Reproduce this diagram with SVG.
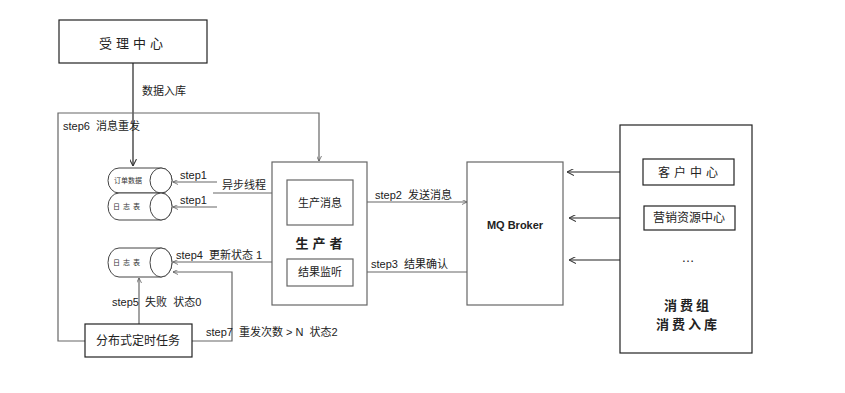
<svg xmlns="http://www.w3.org/2000/svg" width="845" height="393" viewBox="0 0 845 393">
<defs>
<marker id="arr" viewBox="0 0 10 10" refX="10" refY="5" markerWidth="7" markerHeight="7" orient="auto-start-reverse" markerUnits="userSpaceOnUse">
<path d="M0,0 L10,5 L0,10" fill="none" stroke="#333" stroke-width="1.5"/>
</marker>
<marker id="arrs" viewBox="0 0 10 10" refX="10" refY="5" markerWidth="5" markerHeight="5" orient="auto-start-reverse" markerUnits="userSpaceOnUse">
<path d="M0,0 L10,5 L0,10" fill="none" stroke="#555" stroke-width="1.5"/>
</marker>
</defs>
<style>
text{font-family:"Liberation Sans","Noto Sans CJK SC",sans-serif;fill:#222;white-space:pre}
.box{fill:#fff;stroke:#666;stroke-width:1.2}
.dark{fill:#fff;stroke:#222;stroke-width:1.2}
.ln{fill:none;stroke:#666;stroke-width:1.2}
.lk{fill:none;stroke:#222;stroke-width:1.2}
.lbl{font-size:11px}
.cyl{fill:#fff;stroke:#444;stroke-width:1}
.ct{font-size:7px;text-anchor:middle;fill:#333}
.mid{text-anchor:middle}
</style>
<rect width="845" height="393" fill="#fff"/>

<g id="connectors">
<path class="lk" d="M133,63 V166" marker-end="url(#arr)"/>
<path class="ln" d="M85,341 H58 V113 H319 V161" marker-end="url(#arrs)"/>
<path class="ln" d="M217,182 H173" marker-end="url(#arrs)"/>
<path class="ln" d="M217,207 H173" marker-end="url(#arrs)"/>
<path class="ln" d="M272,193 H213"/>
<path class="ln" d="M272,262 H173" marker-end="url(#arrs)"/>
<path class="ln" d="M192,341 H232 V272 H173" marker-end="url(#arrs)"/>
<path class="ln" d="M139,324 V278" marker-end="url(#arrs)"/>
<path class="ln" d="M353,202 H467" marker-end="url(#arrs)"/>
<path class="ln" d="M467,272 H354" marker-end="url(#arrs)"/>
<path class="lk" d="M643,172 H567" marker-end="url(#arr)"/>
<path class="lk" d="M644,218 H569" marker-end="url(#arr)"/>
<path class="lk" d="M643,260 H569" marker-end="url(#arr)"/>
</g>

<g id="labels">
<text class="lbl" x="142" y="95" font-size="10">数据入库</text>
<text class="lbl" x="63" y="130">step6  消息重发</text>
<text class="lbl" x="180" y="179">step1</text>
<text class="lbl" x="222" y="189" font-size="10">异步线程</text>
<text class="lbl" x="180" y="204">step1</text>
<text class="lbl" x="176" y="259">step4  更新状态 1</text>
<text class="lbl" x="112" y="306">step5  失败  状态0</text>
<text class="lbl" x="206" y="336">step7  重发次数 &gt; N  状态2</text>
<text class="lbl" x="375" y="199">step2  发送消息</text>
<text class="lbl" x="371" y="268">step3  结果确认</text>
</g>

<g id="n-shouli">
<rect class="dark" x="59" y="20" width="148" height="43"/>
<text class="mid" x="133" y="48" font-size="13" letter-spacing="4">受理中心</text>
</g>

<g id="n-order">
<path class="cyl" d="M119,168 H161 A11,12.5 0 0 1 161,193 H119 A11,12.5 0 0 1 119,168 Z"/>
<ellipse class="cyl" cx="161" cy="180.5" rx="11" ry="12.5"/>
<text class="ct" x="128" y="183">订单数据</text>
</g>
<g id="n-log1">
<path class="cyl" d="M119,193 H161 A11,13.5 0 0 1 161,220 H119 A11,13.5 0 0 1 119,193 Z"/>
<ellipse class="cyl" cx="161" cy="206.5" rx="11" ry="13.5"/>
<text class="ct" x="128" y="209" letter-spacing="3">日志表</text>
</g>
<g id="n-log2">
<path class="cyl" d="M119,248 H161 A11,14.5 0 0 1 161,277 H119 A11,14.5 0 0 1 119,248 Z"/>
<ellipse class="cyl" cx="161" cy="262.5" rx="11" ry="14.5"/>
<text class="ct" x="128" y="265" letter-spacing="3">日志表</text>
</g>

<g id="n-task">
<rect class="dark" x="85" y="324" width="107" height="33"/>
<text class="mid" x="138" y="345" font-size="12">分布式定时任务</text>
</g>

<g id="n-producer">
<rect class="box" x="272" y="162" width="95" height="143"/>
<rect class="box" x="287" y="180" width="66" height="45"/>
<text class="mid" x="320" y="207" font-size="11" fill="#444">生产消息</text>
<text class="mid" x="321" y="248" font-size="13" font-weight="bold" letter-spacing="4">生产者</text>
<rect class="box" x="287" y="259" width="66" height="27"/>
<text class="mid" x="320" y="276" font-size="11" fill="#444">结果监听</text>
</g>

<g id="n-broker">
<rect class="box" x="467" y="162" width="96" height="143"/>
<text class="mid" x="515" y="229" font-size="11" font-weight="bold">MQ Broker</text>
</g>

<g id="n-consumer">
<rect class="dark" x="620" y="125" width="132" height="228"/>
<text class="mid" x="688" y="310" font-size="13" font-weight="bold" letter-spacing="3">消费组</text>
<text class="mid" x="688" y="329" font-size="13" font-weight="bold" letter-spacing="3">消费入库</text>
</g>
<g id="n-kehu">
<rect class="dark" x="643" y="159" width="91" height="26"/>
<text class="mid" x="690" y="177" font-size="12" letter-spacing="4">客户中心</text>
</g>
<g id="n-yingxiao">
<rect class="dark" x="644" y="206" width="91" height="24"/>
<text class="mid" x="689" y="222" font-size="12">营销资源中心</text>
</g>
<g id="n-more">
<text class="mid" x="688" y="262" font-size="13">…</text>
</g>
</svg>
